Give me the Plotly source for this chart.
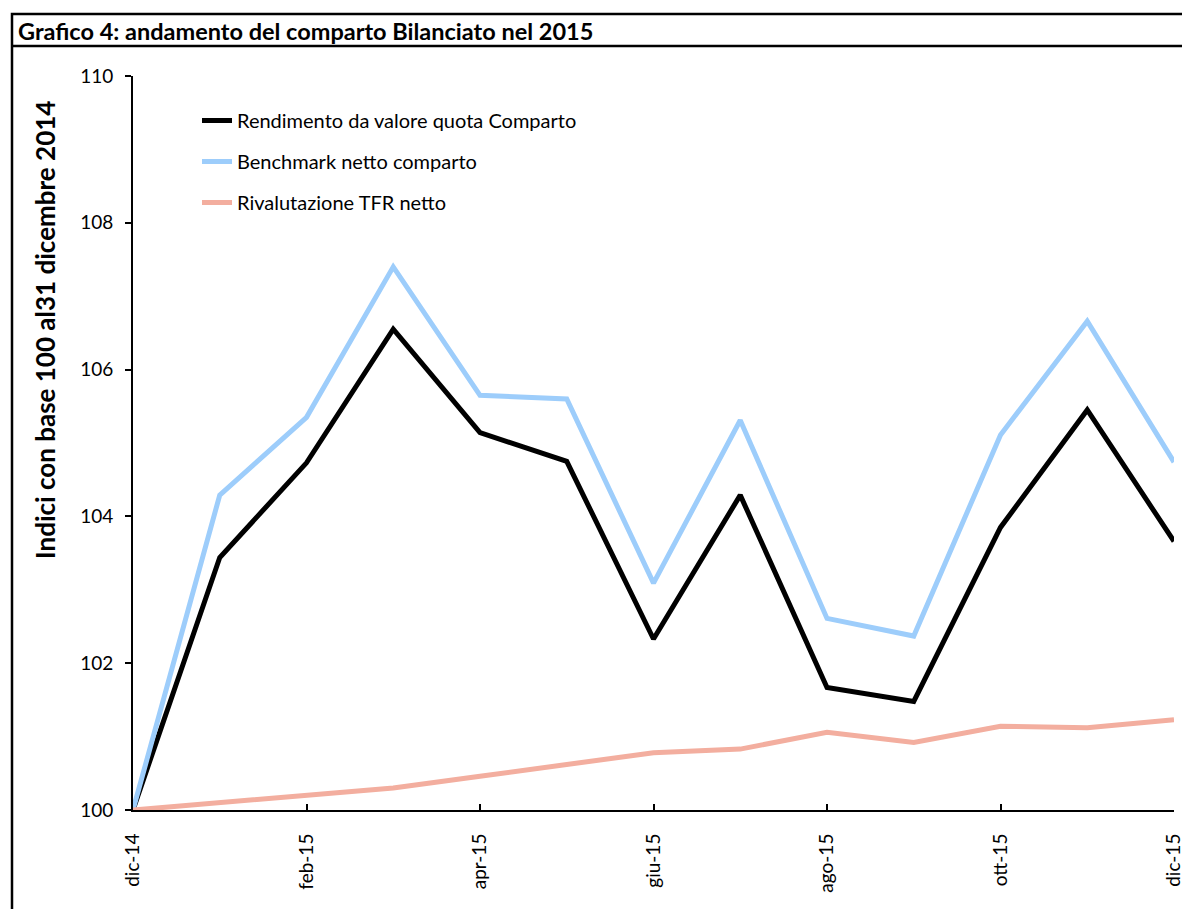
import plotly.graph_objects as go

months = ["dic-14", "gen-15", "feb-15", "mar-15", "apr-15", "mag-15", "giu-15",
          "lug-15", "ago-15", "set-15", "ott-15", "nov-15", "dic-15"]
comparto = [100.0, 103.44, 104.73, 106.55, 105.14, 104.75, 102.33,
            104.29, 101.67, 101.48, 103.85, 105.45, 103.66]
benchmark = [100.0, 104.29, 105.35, 107.40, 105.65, 105.60, 103.09,
             105.31, 102.61, 102.37, 105.11, 106.66, 104.74]
tfr = [100.0, 100.10, 100.20, 100.30, 100.46, 100.62, 100.78,
       100.83, 101.06, 100.92, 101.14, 101.12, 101.23]
tick_idx = [0, 2, 4, 6, 8, 10, 12]
tick_labels = [months[i] for i in tick_idx]
y_ticks = [100, 102, 104, 106, 108, 110]

FONT = "Lato"
x = list(range(len(months)))

fig = go.Figure()
fig.add_trace(go.Scatter(x=x, y=comparto, mode="lines", name="Rendimento da valore quota Comparto",
                         line=dict(color="#000000", width=5), legendgroup="a"))
fig.add_trace(go.Scatter(x=x, y=benchmark, mode="lines", name="Benchmark netto comparto",
                         line=dict(color="#9DCDFB", width=5), legendgroup="b"))
fig.add_trace(go.Scatter(x=x, y=tfr, mode="lines", name="Rivalutazione TFR netto",
                         line=dict(color="#F3AE9F", width=5), legendgroup="c"))

# page body has an 8px margin: figure drawn at (8,8)
L, R, T, B = 125, 16, 68, 99
W, H = 1182, 901
pw = W - L - R
ph = H - T - B

def px(xf):
    return (xf - L) / pw

def py(yf):
    return (H - B - yf) / ph

fig.update_layout(
    width=W, height=H,
    margin=dict(l=L, r=R, t=T, b=B),
    paper_bgcolor="white", plot_bgcolor="white",
    font=dict(family=FONT, size=20, color="#000000"),
    showlegend=True,
    legend=dict(x=px(189), y=py(93), xanchor="left", yanchor="top",
                bgcolor="rgba(0,0,0,0)", font=dict(size=20, family=FONT),
                tracegroupgap=12, itemwidth=30),
    xaxis=dict(range=[0, 12], tickvals=tick_idx, ticktext=tick_labels, tickangle=-90,
               showgrid=False, zeroline=False, showline=True, linecolor="#000000", linewidth=2,
               ticks="inside", ticklen=6, tickwidth=1.5, tickcolor="#000000",
               ticklabelstandoff=14, ticklabeloverflow="allow", automargin=False,
               tickfont=dict(size=19, family=FONT)),
    yaxis=dict(range=[100, 110], tickvals=y_ticks, showgrid=False, zeroline=False,
               showline=True, linecolor="#000000", linewidth=2,
               ticks="outside", ticklen=6, tickwidth=1.5, tickcolor="#000000",
               ticklabelstandoff=8, automargin=False,
               tickfont=dict(size=19, family=FONT)),
)

# frame and title bar
fig.add_shape(type="rect", xref="paper", yref="paper", x0=px(4), x1=px(W + 40), y0=py(H + 40), y1=py(6),
              line=dict(color="#000000", width=2.5), layer="above")
fig.add_shape(type="line", xref="paper", yref="paper", x0=px(4), x1=px(W + 40), y0=py(38), y1=py(38),
              line=dict(color="#000000", width=2.5), layer="above")

fig.add_annotation(text="<b>Grafico 4: andamento del comparto Bilanciato nel 2015</b>",
                   xref="paper", yref="paper", x=px(8), y=py(22.5), xanchor="left", yanchor="middle",
                   showarrow=False, font=dict(size=23.5, family=FONT, color="#000000"))
fig.add_annotation(text="<b>Indici con base 100 al31 dicembre 2014</b>",
                   xref="paper", yref="paper", x=px(37), y=py(322), xanchor="center", yanchor="middle",
                   textangle=-90, showarrow=False, font=dict(size=26, family=FONT, color="#000000"))

fig.write_html("out.html")
